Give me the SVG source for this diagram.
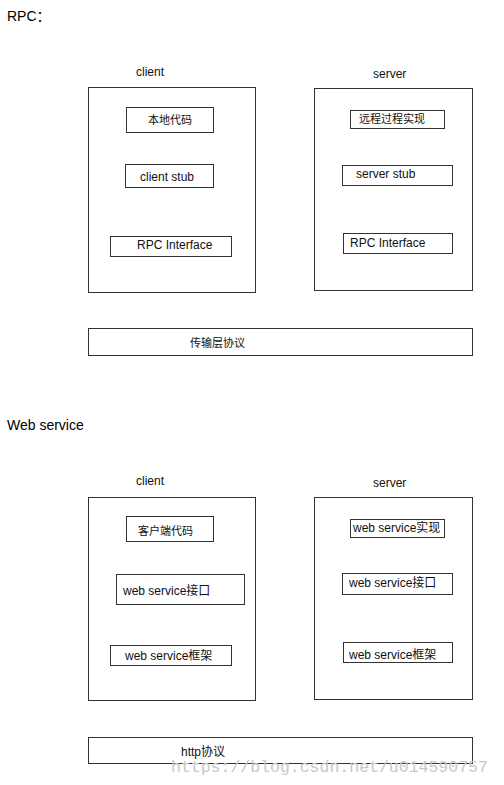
<svg xmlns="http://www.w3.org/2000/svg" width="504" height="785" viewBox="0 0 504 785">
<style>
.bg{fill:#ffffff}
.box{fill:#ffffff;stroke:#333333;stroke-width:1}
.t{font-family:"Liberation Sans","Noto Sans CJK SC",sans-serif;font-size:12px;fill:#111111}
.c{font-family:"Noto Sans CJK SC","Liberation Sans",sans-serif;font-size:11px;fill:#111111}
.h{font-family:"Liberation Sans","Noto Sans CJK SC",sans-serif;font-size:14px;fill:#000000}
.wm{font-family:"Liberation Mono",monospace;font-size:16.5px;fill:#c8c8c8}
</style>
<rect class="bg" x="0" y="0" width="504" height="785"/>
<g id="rpc-title"><text class="h" x="7" y="21">RPC：</text></g>
<g id="rpc-client">
<text class="t" x="136" y="76">client</text>
<rect class="box" x="88.5" y="87.5" width="167" height="205"/>
</g>
<g id="rpc-local-code"><rect class="box" x="126.5" y="107.5" width="87" height="25"/><text class="c" x="148" y="124">本地代码</text></g>
<g id="rpc-client-stub"><rect class="box" x="125.5" y="164.5" width="88" height="23"/><text class="t" x="140" y="181">client  stub</text></g>
<g id="rpc-client-interface"><rect class="box" x="110.5" y="236.5" width="121" height="20"/><text class="t" x="137" y="249">RPC Interface</text></g>
<g id="rpc-server">
<text class="t" x="373" y="78">server</text>
<rect class="box" x="314.5" y="88.5" width="158" height="202"/>
</g>
<g id="rpc-remote-impl"><rect class="box" x="350.5" y="110.5" width="94" height="18"/><text class="c" x="359" y="123">远程过程实现</text></g>
<g id="rpc-server-stub"><rect class="box" x="342.5" y="165.5" width="110" height="20"/><text class="t" x="356" y="178">server stub</text></g>
<g id="rpc-server-interface"><rect class="box" x="343.5" y="233.5" width="109" height="20"/><text class="t" x="350" y="247">RPC Interface</text></g>
<g id="rpc-transport"><rect class="box" x="88.5" y="328.5" width="384" height="27"/><text class="c" x="190" y="347">传输层协议</text></g>

<g id="ws-title"><text class="h" x="7" y="430">Web service</text></g>
<g id="ws-client">
<text class="t" x="136" y="485">client</text>
<rect class="box" x="88.5" y="497.5" width="167" height="203"/>
</g>
<g id="ws-client-code"><rect class="box" x="126.5" y="516.5" width="87" height="25"/><text class="c" x="138" y="535">客户端代码</text></g>
<g id="ws-client-interface"><rect class="box" x="116.5" y="574.5" width="128" height="30"/><text class="t" x="123" y="595">web service接口</text></g>
<g id="ws-client-framework"><rect class="box" x="110.5" y="645.5" width="121" height="20"/><text class="t" x="125" y="660">web service框架</text></g>
<g id="ws-server">
<text class="t" x="373" y="487">server</text>
<rect class="box" x="314.5" y="497.5" width="158" height="202"/>
</g>
<g id="ws-server-impl"><rect class="box" x="350.5" y="519.5" width="94" height="18"/><text class="t" x="353" y="532">web service实现</text></g>
<g id="ws-server-interface"><rect class="box" x="342.5" y="573.5" width="110" height="21"/><text class="t" x="349" y="587">web service接口</text></g>
<g id="ws-server-framework"><rect class="box" x="343.5" y="642.5" width="109" height="20"/><text class="t" x="349" y="659">web service框架</text></g>
<g id="ws-http"><rect class="box" x="88.5" y="737.5" width="384" height="26"/><text class="t" x="181" y="756">http协议</text></g>
<g id="connectors"></g>
<text class="wm" x="171" y="772">https://blog.csdn.net/u014590757</text>
</svg>
